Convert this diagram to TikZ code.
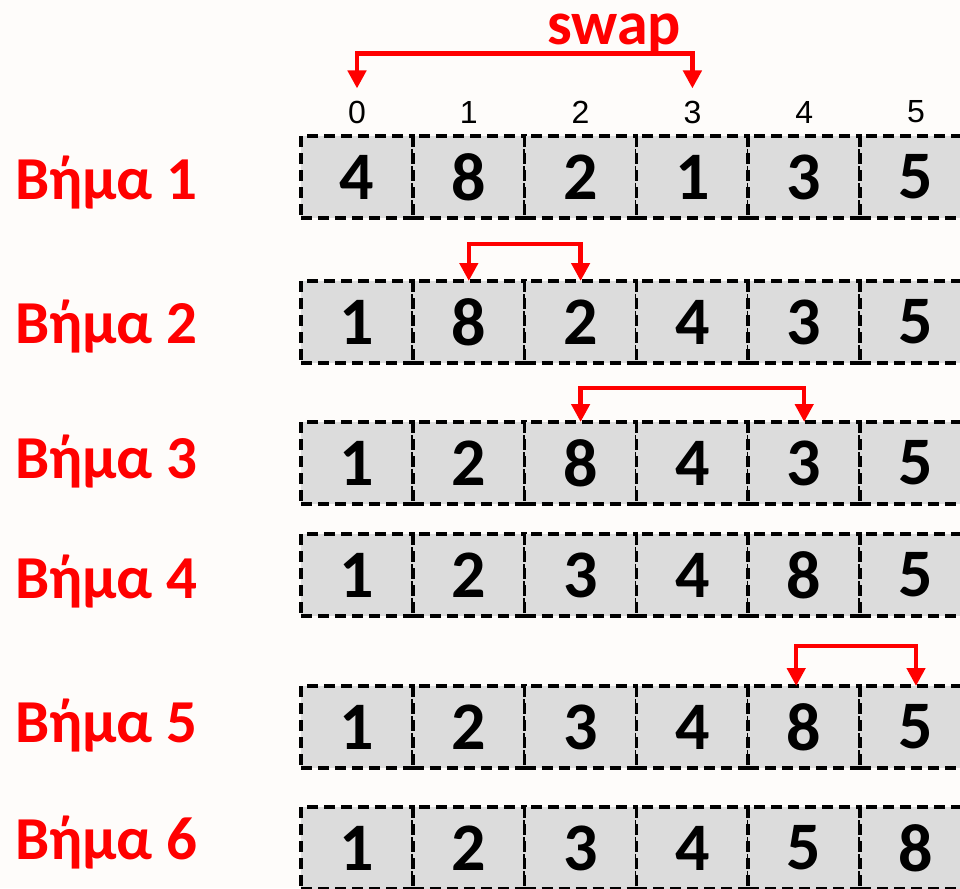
\documentclass[tikz,border=0pt]{standalone}
\usepackage{fontspec}
\setmainfont{Carlito}
\newfontfamily\arialf{Liberation Sans}
\usetikzlibrary{arrows.meta}
\definecolor{bg}{HTML}{FEFCFA}
\definecolor{cellgray}{HTML}{DCDCDC}
\definecolor{swapred}{HTML}{FF0000}
\tikzset{
  cell/.style={draw=black, fill=cellgray, line width=3.5pt, dash pattern=on 11pt off 6pt,
    minimum width=112pt, minimum height=82pt, inner sep=0pt, outer sep=0pt,
    font=\fontsize{68}{68}\selectfont\bfseries},
  steplabel/.style={anchor=base west, text=swapred, inner sep=0pt,
    font=\fontsize{61}{61}\selectfont\bfseries},
  idx/.style={inner sep=0pt, font=\arialf\fontsize{32}{32}\selectfont},
  swaparrow/.style={draw=swapred, line width=4.5pt,
    {Triangle[width=18pt,length=18pt]}-{Triangle[width=18pt,length=18pt]}},
}
\begin{document}
\begin{tikzpicture}[x=1pt,y=-1pt]
\useasboundingbox (0,0) rectangle (960,888);
\fill[bg] (0,0) rectangle (960,888);
\clip (0,0) rectangle (960,888);
% index labels
\foreach \i in {0,...,5}{
  \node[idx] (i\i) at ({357+111.8*\i},112) {\i};
}
% rows
\foreach \r/\y/\b/\vals in {1/177/199/{4,8,2,1,3,5},2/322/343/{1,8,2,4,3,5},3/463/478/{1,2,8,4,3,5},4/575/598/{1,2,3,4,8,5},5/727/742/{1,2,3,4,8,5},6/848/859/{1,2,3,4,5,8}}{
  \foreach \v [count=\c from 0] in \vals {
    \node[cell] (r\r c\c) at ({357+111.8*\c},\y) {\v};
  }
  \node[steplabel] (s\r) at (15,\b) {Βήμα \r};
}
% swap label and arrows
\node[text=swapred, inner sep=0pt, anchor=base, font=\fontsize{62}{62}\selectfont\bfseries] (swp) at (614,45) {swap};
\coordinate (t0) at ([yshift=12pt]i0.north);
\coordinate (t3) at ([yshift=12pt]i3.north);
\draw[swaparrow] (t0) -- ++(0,-35) -| (t3);
\draw[swaparrow] (r2c1.north) -- ++(0,-37) -| (r2c2.north);
\draw[swaparrow] (r3c2.north) -- ++(0,-34) -| (r3c4.north);
\draw[swaparrow] ([xshift=-8pt]r5c4.north) -- ++(0,-40) -| (r5c5.north);
\end{tikzpicture}
\end{document}
